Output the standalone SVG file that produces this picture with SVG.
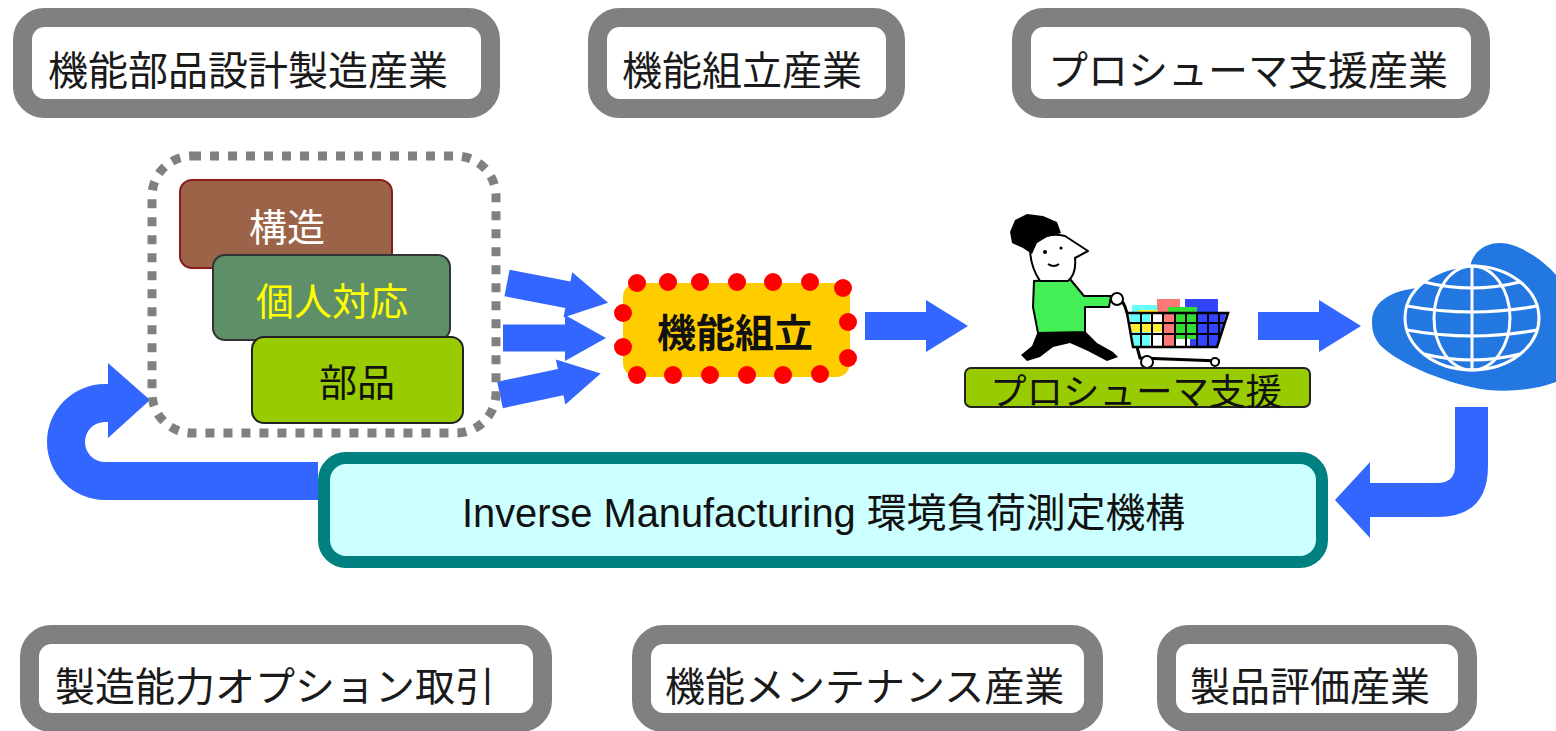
<svg xmlns="http://www.w3.org/2000/svg" width="1556" height="731" viewBox="0 0 1556 731">
  <style>
    .ind { fill: #ffffff; stroke: #808080; stroke-width: 19; }
    .ind-t { font-family: "Noto Sans CJK JP", "Noto Sans CJK SC", sans-serif; font-size: 40px; fill: #1a1a1a; }
    .blk-t { font-family: "Noto Sans CJK JP", sans-serif; font-size: 38px; text-anchor: middle; }
    .flow { fill: #3366ff; }
    .dot { fill: #ff0000; }
    .ink { stroke: #000; stroke-width: 2; stroke-linejoin: round; }
  </style>
  <defs>
    <path id="arwS" d="M0,-13.5 H62 V-23 L103,0 L62,23 V13.5 H0 Z"/>
    <path id="arwL" d="M0,-14 H61 V-26 L103,0 L61,26 V14 H0 Z"/>
  </defs>

  <!-- industry boxes, top row -->
  <g id="ind-parts">
    <rect class="ind" x="22.5" y="17.5" width="468" height="91" rx="22"/>
    <text class="ind-t" x="48" y="85">機能部品設計製造産業</text>
  </g>
  <g id="ind-assembly">
    <rect class="ind" x="597.5" y="17.5" width="298" height="91" rx="22"/>
    <text class="ind-t" x="622" y="85">機能組立産業</text>
  </g>
  <g id="ind-prosumer">
    <rect class="ind" x="1021.5" y="17.5" width="459" height="91" rx="22"/>
    <text class="ind-t" x="1048" y="85">プロシューマ支援産業</text>
  </g>

  <!-- industry boxes, bottom row -->
  <g id="ind-option">
    <rect class="ind" x="29.5" y="634.5" width="513" height="88" rx="22"/>
    <text class="ind-t" x="55" y="701">製造能力オプション取引</text>
  </g>
  <g id="ind-maint">
    <rect class="ind" x="641.5" y="634.5" width="452" height="88" rx="22"/>
    <text class="ind-t" x="665" y="701">機能メンテナンス産業</text>
  </g>
  <g id="ind-eval">
    <rect class="ind" x="1166.5" y="634.5" width="301" height="88" rx="22"/>
    <text class="ind-t" x="1190" y="701">製品評価産業</text>
  </g>

  <!-- connectors -->
  <g id="connectors" class="flow">
    <use href="#arwS" transform="translate(507,283) rotate(11)"/>
    <use href="#arwS" transform="translate(503,338)"/>
    <use href="#arwS" transform="translate(500,395) rotate(-12)"/>
    <use href="#arwL" transform="translate(865,326)"/>
    <use href="#arwL" transform="translate(1258,326)"/>
    <!-- return from globe to measurement box -->
    <path d="M1455,407 H1488 V466 Q1488,517 1437,517 H1370 V538 L1335,500 L1370,462 V483 H1437 Q1455,483 1455,466 Z"/>
    <!-- loop back to design group -->
    <path d="M318,462 H105 A20,20 0 0 1 105,422 H108 V438 L150,400 L108,363 V384 H105 A58,58 0 0 0 105,500 H318 Z"/>
  </g>

  <!-- design group: structure / personalisation / parts -->
  <g id="design-group">
    <rect x="152" y="156" width="344" height="277" rx="40" fill="none" stroke="#808080" stroke-width="9" stroke-dasharray="9 9"/>
  </g>
  <g id="blk-structure">
    <rect x="180" y="180" width="212" height="88" rx="12" fill="#9b6448" stroke="#8b1a1a" stroke-width="2"/>
    <text class="blk-t" x="287" y="241" fill="#ffffff">構造</text>
  </g>
  <g id="blk-personal">
    <rect x="213" y="255" width="237" height="85" rx="12" fill="#5f8f68" stroke="#333333" stroke-width="2"/>
    <text class="blk-t" x="332" y="315" fill="#ffff00">個人対応</text>
  </g>
  <g id="blk-parts">
    <rect x="252" y="337" width="211" height="86" rx="12" fill="#99cc00" stroke="#222222" stroke-width="2"/>
    <text class="blk-t" x="357" y="396" fill="#111111">部品</text>
  </g>

  <!-- function assembly -->
  <g id="assembly">
    <rect x="623" y="283" width="227" height="94" rx="14" fill="#ffcc00"/>
    <g class="dot">
      <circle cx="637" cy="283" r="9"/><circle cx="668" cy="282" r="9"/><circle cx="700" cy="282" r="9"/>
      <circle cx="737" cy="282" r="9"/><circle cx="773" cy="282" r="9"/><circle cx="810" cy="282" r="9"/>
      <circle cx="843" cy="288" r="9"/>
      <circle cx="623" cy="313" r="9"/><circle cx="623" cy="347" r="9"/>
      <circle cx="848" cy="322" r="9"/><circle cx="848" cy="358" r="9"/>
      <circle cx="637" cy="375" r="9"/><circle cx="673" cy="375" r="9"/><circle cx="710" cy="375" r="9"/>
      <circle cx="747" cy="375" r="9"/><circle cx="783" cy="375" r="9"/><circle cx="820" cy="374" r="9"/>
    </g>
    <text x="735" y="347" font-family="Noto Sans CJK JP, sans-serif" font-size="39" font-weight="700" text-anchor="middle" fill="#111">機能組立</text>
  </g>

  <!-- prosumer: shopper with cart -->
  <g id="prosumer">
    <!-- cart goods -->
    <rect x="1132" y="305" width="25" height="9" fill="#66ffff"/>
    <rect x="1157" y="299" width="23" height="15" fill="#ff7777"/>
    <rect x="1185" y="299" width="33" height="15" fill="#3344ff"/>
    <rect x="1168" y="307" width="29" height="7" fill="#33dd33"/>
    <rect x="1138" y="310" width="20" height="4" fill="#ffee33"/>
    <!-- basket fill -->
    <path d="M1127,313 H1228 L1217,347 H1133 Z" fill="#ffffff"/>
    <path d="M1129,314 H1150 V346 H1134 Z" fill="#66ffff"/>
    <rect x="1131" y="322" width="32" height="10" fill="#ffee33"/>
    <rect x="1163" y="314" width="12" height="33" fill="#ff7777"/>
    <rect x="1175" y="314" width="22" height="25" fill="#33dd33"/>
    <path d="M1197,314 H1226 L1217,347 H1190 V339 H1197 Z" fill="#3344ff"/>
    <!-- basket grid -->
    <g stroke="#000" stroke-width="2" fill="none">
      <path d="M1127,313 H1228 L1217,347 H1133 Z" stroke-width="2.5"/>
      <path d="M1130,323 H1225 M1131,334 H1222 M1141,313 V347 M1152,313 V347 M1163,313 V347 M1175,313 V347 M1186,313 V347 M1197,313 V347 M1208,313 V347 M1219,313 V340"/>
      <!-- handle and chassis -->
      <path d="M1117,298 Q1124,300 1127,313" stroke-width="3"/>
      <path d="M1137,347 L1140,358 L1220,361" stroke-width="3"/>
    </g>
    <circle cx="1147" cy="362" r="6" fill="#fff" stroke="#000" stroke-width="2"/>
    <circle cx="1215" cy="362" r="4" fill="#fff" stroke="#000" stroke-width="2"/>
    <!-- legs -->
    <path d="M1038,331 H1085 L1097,343 L1113,352 L1118,357 L1107,361 L1088,351 L1070,343 L1053,347 L1040,357 L1027,361 L1021,355 L1032,346 Z" fill="#000"/>
    <!-- shirt and arm -->
    <path class="ink" d="M1034,281 L1070,279 L1084,296 L1111,296 L1109,307 L1085,307 L1085,332 L1038,333 L1033,307 Z" fill="#44ee55"/>
    <circle class="ink" cx="1117" cy="299" r="6" fill="#fff"/>
    <!-- head -->
    <path class="ink" d="M1030,248 C1034,238 1050,232 1065,236 L1088,251 L1075,258 C1076,268 1074,276 1068,281 L1040,281 C1034,272 1030,260 1030,248 Z" fill="#fff"/>
    <path d="M1010,232 L1015,220 L1027,214 L1043,216 L1057,222 L1061,233 L1047,237 L1037,243 L1032,254 L1023,248 L1012,243 Z" fill="#000"/>
    <circle cx="1045" cy="252" r="2"/>
    <circle cx="1061" cy="248" r="1.6"/>
    <path d="M1048,264 Q1054,268 1059,264" fill="none" stroke="#000" stroke-width="2"/>
    <!-- caption -->
    <rect x="965" y="368" width="345" height="39" rx="6" fill="#99cc00" stroke="#222222" stroke-width="2"/>
    <text x="990" y="405" font-family="Noto Sans CJK JP, sans-serif" font-size="36" textLength="292" lengthAdjust="spacingAndGlyphs" fill="#111">プロシューマ支援</text>
  </g>

  <!-- global market -->
  <g id="globe">
    <path d="M1372,322 C1372,300 1395,290 1418,288 L1470,268 C1472,252 1485,243 1500,243 C1520,243 1545,262 1556,275 L1556,382 C1535,390 1510,392 1488,390 C1450,385 1400,365 1380,345 C1374,338 1372,330 1372,322 Z" fill="#2278e0"/>
    <ellipse cx="1472" cy="318" rx="67" ry="52" fill="#2278e0"/>
    <g fill="none" stroke="#ffffff" stroke-width="3">
      <ellipse cx="1472" cy="318" rx="67" ry="52"/>
      <ellipse cx="1472" cy="318" rx="38" ry="52"/>
      <path d="M1472,266 V370"/>
      <path d="M1424,282 Q1472,294 1520,282"/>
      <path d="M1407,306 Q1472,318 1537,306"/>
      <path d="M1407,330 Q1472,342 1537,330"/>
      <path d="M1424,354 Q1472,366 1520,354"/>
    </g>
  </g>

  <!-- inverse manufacturing measurement -->
  <g id="inverse">
    <rect x="324" y="458" width="998" height="104" rx="22" fill="#ccffff" stroke="#008080" stroke-width="12"/>
    <text x="462" y="527" font-family="Liberation Sans, Noto Sans CJK JP, sans-serif" font-size="40" textLength="723" lengthAdjust="spacingAndGlyphs" fill="#111">Inverse Manufacturing 環境負荷測定機構</text>
  </g>
</svg>
